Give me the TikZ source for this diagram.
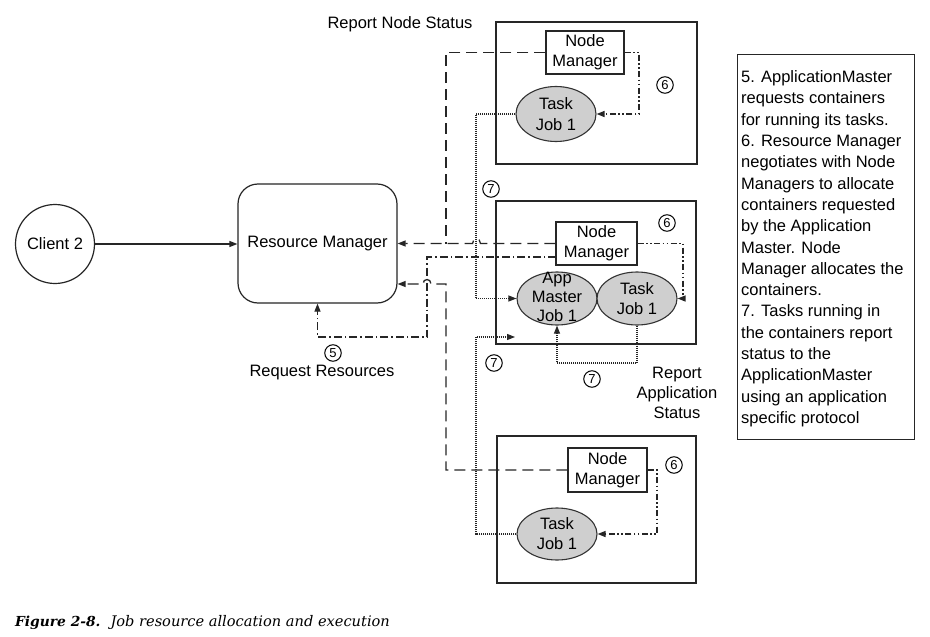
\documentclass[tikz,border=0pt]{standalone}
\usepackage{fontspec}
\setmainfont{Liberation Sans}
\newfontfamily\capfont{DejaVu Serif}
\usetikzlibrary{arrows.meta,shapes.geometric}
\begin{document}
\begin{tikzpicture}[x=1pt,y=-1pt,
 base/.style={font=\fontsize{16.5}{20}\selectfont, text=black},
 lbl/.style={base, align=center, inner sep=0},
 cnt/.style={draw=black!85, line width=1.2pt, inner sep=0},
 nmbox/.style={draw=black!85, line width=1.2pt, fill=white, inner sep=0, align=center, base},
 job/.style={ellipse, draw=black!80, line width=1.1pt, fill=black!19, inner sep=0},
 num/.style={circle, draw=black, line width=1pt, minimum size=16.5pt, inner sep=0, font=\fontsize{13}{13}\selectfont},
 arr/.style={-{Triangle[length=8pt,width=6pt]}},
 con/.style={draw=black!85, line width=1.2pt},
 longdash/.style={con, line width=1.3pt, dash pattern=on 11pt off 6pt},
 dashdot/.style={con, dash pattern=on 8pt off 3pt on 1.5pt off 3pt},
 dashdotdot/.style={con, dash pattern=on 6pt off 2.5pt on 1.5pt off 2.5pt on 1.5pt off 2.5pt},
 dotline/.style={con, line width=1.1pt, dash pattern=on 1pt off 1pt},
]
\useasboundingbox (0,0) rectangle (930,637);
\fill[white] (0,0) rectangle (930,637);

% containers
\node[cnt, minimum width=201pt, minimum height=142pt] (c1) at (596.5,93) {};
\node[cnt, minimum width=200pt, minimum height=143pt] (c2) at (596,272.5) {};
\node[cnt, minimum width=199pt, minimum height=147pt] (c3) at (596.5,509.5) {};

% main nodes
\node[circle, draw=black!85, line width=1.2pt, minimum size=79pt, inner sep=0, base] (client) at (55,244) {Client 2};
\node[draw=black!85, line width=1.2pt, rounded corners=20pt, minimum width=159pt, minimum height=119pt, inner sep=0, base] (rm) at (317.5,243.5) {Resource Manager};

% node managers
\node[nmbox, minimum width=78pt, minimum height=43pt] (nm1) at (585,52.5) {Node\\Manager};
\node[nmbox, minimum width=81pt, minimum height=43pt] (nm2) at (596.5,243.5) {Node\\Manager};
\node[nmbox, minimum width=79pt, minimum height=44pt] (nm3) at (607.5,470) {Node\\Manager};

% jobs
\node[job, minimum width=80pt, minimum height=55pt] (t1) at (556,114) {};
\node[job, minimum width=80pt, minimum height=53pt] (am) at (557,298.5) {};
\node[job, minimum width=80pt, minimum height=53pt] (t2) at (637,298.5) {};
\node[job, minimum width=80pt, minimum height=52pt] (t3) at (557,534) {};
\node[lbl, font=\fontsize{16.5}{21}\selectfont] (t1txt) at (t1) {Task\\Job 1};
\node[lbl, font=\fontsize{16.5}{19}\selectfont] (amtxt) at (557,297) {App\\Master\\Job 1};
\node[lbl] (t2txt) at (t2) {Task\\Job 1};
\node[lbl] (t3txt) at (t3) {Task\\Job 1};

% helper coordinates
\coordinate (k1) at (446,243.5);
\coordinate (k2) at (446,284);
\coordinate (rq) at (556,257);
\coordinate (q1) at (427,337);
\coordinate (m1) at (639,114);
\coordinate (m2) at (683,298.5);
\coordinate (m3) at (657,534);
\coordinate (d1) at (476,298.5);
\coordinate (d2) at (476,337);
\coordinate (d3) at (515,337);
\coordinate (d4) at (557,363);

% client -> RM
\draw[con, arr] (client.east) -- (client.east -| rm.west);

% report node status (long dashed)
\draw[longdash] (nm1.west) -| (k1);
\draw[longdash, arr] (nm2.west) -- (480.5,243.5) .. controls (480.5,237.5) and (472.5,237.5) .. (472.5,243.5) -- (rm.east);
\draw[longdash, arr] (nm3.west) -| (k2) -- (431,284) .. controls (431,278) and (423,278) .. (423,284) -- (rm.east |- k2);

% request resources (dash dot)
\draw[dashdot, arr] (rq) -| (q1) -| (rm.south);

% NM -> tasks (dash dot dot)
\draw[dashdotdot, arr] (nm1.east) -| (m1) -- (t1.east);
\draw[dashdotdot, arr] (nm2.east) -| (m2) -- (t2.east);
\draw[dashdotdot, arr] (nm3.east) -| (m3) -- (t3.east);

% task status (dotted)
\draw[dotline, arr] (t1.west) -| (d1) -- (am.west);
\draw[dotline, arr] (t3.west) -| (d2) -- (d3);
\draw[dotline, arr] (t2.south) |- (d4) -- (am.south);

% circled numbers
\node[num] (n6a) at (665,85) {6};
\node[num] (n6b) at (667,223) {6};
\node[num] (n6c) at (674,465) {6};
\node[num] (n7a) at (491,189) {7};
\node[num] (n7b) at (494,363) {7};
\node[num] (n7c) at (592,379) {7};
\node[num] (n5) at (333,353) {5};

% labels
\node[lbl] (rns) at (400,24) {Report Node Status};
\node[lbl] (rr) at (322,373) {Request Resources};
\node[lbl] (ras) at (677,393) {Report\\Application\\Status};

% text box
\node[cnt, anchor=north west, minimum width=177pt, minimum height=385pt] (tb) at (737,54) {};
\node[anchor=north west, inner sep=0, align=left, font=\fontsize{16.5}{21.3}\selectfont] (tbtext) at (741,70.5) {5. ApplicationMaster\\
requests containers\\
for running its tasks.\\
6. Resource Manager\\
negotiates with Node\\
Managers to allocate\\
containers requested\\
by the Application\\
Master. Node\\
Manager allocates the\\
containers.\\
7. Tasks running in\\
the containers report\\
status to the\\
ApplicationMaster\\
using an application\\
specific protocol};

% caption
\node[anchor=base west, inner sep=0, font=\capfont] (cap) at (15,626) {{\fontsize{13.8}{16}\selectfont\bfseries\itshape Figure 2-8.}\hspace{10pt}{\fontsize{14.6}{16}\selectfont\itshape Job resource allocation and execution}};
\end{tikzpicture}
\end{document}
